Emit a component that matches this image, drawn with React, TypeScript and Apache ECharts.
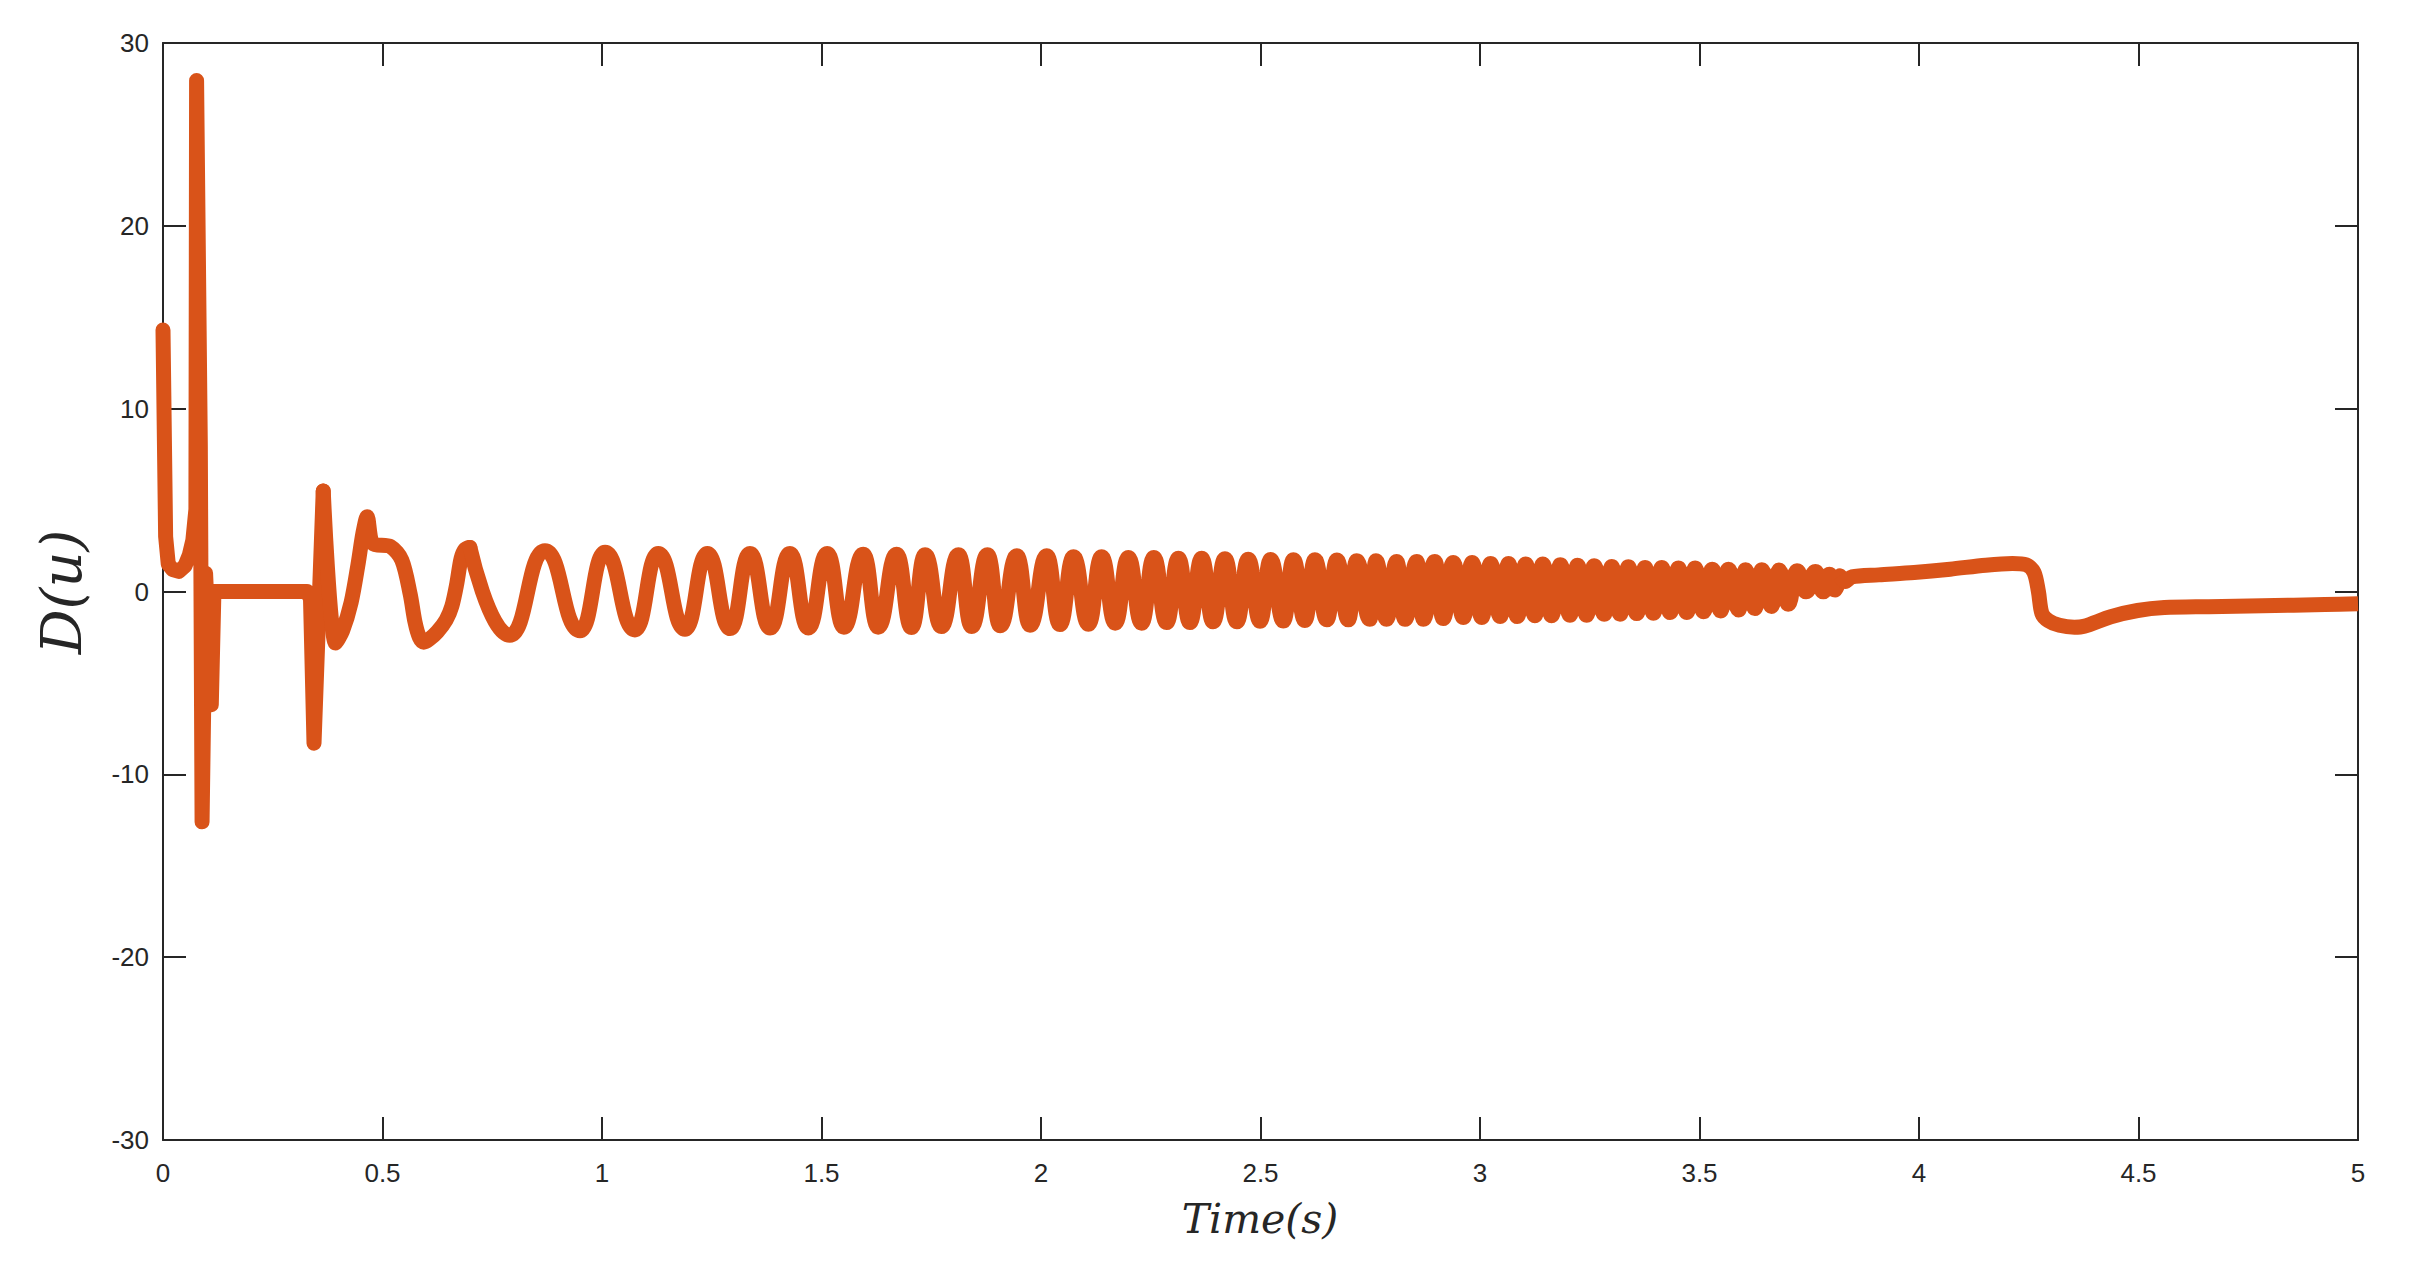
import React, { useEffect, useRef } from "react";
import * as echarts from "echarts";

// ---- Data ----
// Initial transient (t in s, D(u))
const transientT = [0, 0.006, 0.012, 0.022, 0.036, 0.05, 0.06, 0.068, 0.075, 0.0765, 0.085, 0.089, 0.097, 0.11, 0.116, 0.328, 0.336, 0.344, 0.365];
const transientV = [14.3, 3.0, 1.5, 1.2, 1.1, 1.4, 2.0, 2.8, 4.5, 27.95, 8.0, -12.6, 1.0, -6.2, 0, 0, -0.4, -8.3, 5.5];

// First slow oscillations after the second kick
const earlyT = [0.365, 0.393, 0.409, 0.4285, 0.444, 0.4555, 0.465, 0.4786, 0.518, 0.544, 0.563, 0.574, 0.584, 0.594, 0.606, 0.625, 0.645, 0.658, 0.669, 0.679, 0.688, 0.699];
const earlyV = [5.5, -2.82, -2.15, -0.6, 1.45, 3.2, 4.09, 2.62, 2.46, 1.72, -0.14, -1.67, -2.5, -2.77, -2.62, -2.2, -1.55, -0.8, 0.4, 1.8, 2.3, 2.41];

// Chirp oscillation: peaks
const peakT = [
  0.699, 0.87, 1.007, 1.128, 1.24, 1.337, 1.428, 1.513, 1.595, 1.671,
  1.736, 1.812, 1.878, 1.945, 2.013, 2.074, 2.138, 2.199, 2.257, 2.313, 2.366, 2.419, 2.472, 2.523, 2.575, 2.624, 2.674, 2.719, 2.763,
  2.81, 2.856, 2.897, 2.939, 2.982, 3.024, 3.065, 3.104, 3.143, 3.183, 3.222, 3.26, 3.3, 3.338, 3.376, 3.414, 3.452, 3.49, 3.529, 3.566, 3.605, 3.642, 3.681, 3.722, 3.764, 3.796, 3.82,
];
const peakV = [
  2.41, 2.23, 2.14, 2.08, 2.08, 2.08, 2.08, 2.08, 2.04, 2.04,
  2.01, 2.01, 2.01, 1.95, 1.95, 1.9, 1.9, 1.86, 1.86, 1.82, 1.82, 1.79, 1.77, 1.75, 1.73, 1.73, 1.72, 1.68, 1.68,
  1.64, 1.64, 1.64, 1.59, 1.59, 1.53, 1.53, 1.5, 1.5, 1.46, 1.44, 1.41, 1.37, 1.35, 1.31, 1.31, 1.28, 1.28, 1.22, 1.22, 1.19, 1.19, 1.17, 1.13, 1.1, 0.95, 0.86,
];
// Chirp oscillation: troughs
const troughT = [
  0.79, 0.95, 1.075, 1.189, 1.292, 1.383, 1.47, 1.551, 1.629,
  1.705, 1.773, 1.842, 1.907, 1.975, 2.043, 2.108, 2.169, 2.229, 2.286, 2.339, 2.392, 2.446, 2.499, 2.552, 2.601, 2.651, 2.7, 2.749,
  2.787, 2.829, 2.871, 2.916, 2.962, 3.004, 3.046, 3.085, 3.125, 3.163, 3.205, 3.243, 3.283, 3.319, 3.357, 3.395, 3.433, 3.471, 3.509, 3.548, 3.589, 3.626, 3.664, 3.702, 3.743, 3.782, 3.809,
];
const troughV = [
  -2.39, -2.15, -2.1, -2.06, -2.03, -1.99, -1.99, -1.95, -1.95,
  -1.97, -1.92, -1.92, -1.88, -1.84, -1.81, -1.79, -1.73, -1.73, -1.7, -1.7, -1.66, -1.66, -1.63, -1.61, -1.59, -1.55, -1.55, -1.52,
  -1.52, -1.52, -1.52, -1.48, -1.42, -1.42, -1.37, -1.37, -1.33, -1.33, -1.3, -1.3, -1.24, -1.24, -1.21, -1.19, -1.15, -1.15, -1.11, -1.06, -1.01, -0.93, -0.82, -0.7, -0.02, -0.02, 0.08,
];

// Slow tail
const tailT = [3.82, 3.832, 3.847, 3.908, 3.989, 4.071, 4.152, 4.213, 4.244, 4.262, 4.272, 4.28, 4.295, 4.32, 4.354, 4.376, 4.437, 4.498, 4.559, 4.66, 4.782, 4.925, 5.0];
const tailV = [0.86, 0.55, 0.8, 0.91, 1.04, 1.22, 1.44, 1.53, 1.46, 1.05, 0, -1.2, -1.6, -1.85, -1.95, -1.9, -1.38, -1.04, -0.88, -0.83, -0.78, -0.71, -0.67];

// Axis settings
const X_MIN = 0;
const X_MAX = 5;
const X_STEP = 0.5;
const Y_MIN = -30;
const Y_MAX = 30;
const Y_STEP = 10;

const X_TITLE = "Time(s)";
const Y_TITLE = "D(u)";

const LINE_COLOR = "#D95319";
const AXIS_COLOR = "#262626";
const LINE_WIDTH = 15;

function pairs(ts: number[], vs: number[]): number[][] {
  return ts.map((t, i) => [t, vs[i]]);
}

export default function App() {
  const ref = useRef<HTMLDivElement>(null);

  useEffect(() => {
    document.body.style.margin = "0";
    const el = ref.current;
    if (!el) return;
    const chart = echarts.init(el, null, { renderer: "svg" });

    const chirp = [...pairs(peakT, peakV), ...pairs(troughT, troughV)].sort((a, b) => a[0] - b[0]);

    const labelFont = {
      fontSize: 26,
      color: AXIS_COLOR,
      fontFamily: '"Liberation Sans", Arial, Helvetica, sans-serif',
    };
    const axisLine = { show: true, onZero: false, lineStyle: { color: AXIS_COLOR, width: 2 } };
    const axisTick = { show: true, inside: true, length: 23, lineStyle: { color: AXIS_COLOR, width: 2 } };

    const lineSeries = (name: string, data: number[][], extra: any) => ({
      name,
      type: "line",
      data,
      showSymbol: false,
      symbol: "none",
      xAxisIndex: 0,
      yAxisIndex: 0,
      lineStyle: { color: LINE_COLOR, width: LINE_WIDTH, cap: "round", join: "round" },
      itemStyle: { color: LINE_COLOR },
      ...extra,
    });

    chart.setOption({
      animation: false,
      backgroundColor: "#ffffff",
      grid: { left: 163, right: 56, top: 43, bottom: 122, containLabel: false },
      xAxis: [
        {
          type: "value",
          position: "bottom",
          min: X_MIN,
          max: X_MAX,
          interval: X_STEP,
          axisLine,
          axisTick,
          splitLine: { show: false },
          axisLabel: { ...labelFont, margin: 20, showMinLabel: true, showMaxLabel: true },
        },
        {
          type: "value",
          position: "top",
          min: X_MIN,
          max: X_MAX,
          interval: X_STEP,
          axisLine,
          axisTick,
          splitLine: { show: false },
          axisLabel: { show: false },
        },
      ],
      yAxis: [
        {
          type: "value",
          position: "left",
          min: Y_MIN,
          max: Y_MAX,
          interval: Y_STEP,
          axisLine,
          axisTick,
          splitLine: { show: false },
          axisLabel: { ...labelFont, margin: 14, showMinLabel: true, showMaxLabel: true },
        },
        {
          type: "value",
          position: "right",
          min: Y_MIN,
          max: Y_MAX,
          interval: Y_STEP,
          axisLine,
          axisTick,
          splitLine: { show: false },
          axisLabel: { show: false },
        },
      ],
      graphic: [
        {
          type: "text",
          x: 1260,
          y: 1219,
          style: {
            text: X_TITLE,
            fontSize: 41,
            fontStyle: "italic",
            fontFamily: '"DejaVu Serif", "Liberation Serif", serif',
            fill: AXIS_COLOR,
            align: "center",
            verticalAlign: "middle",
          },
        },
        {
          type: "text",
          x: 61,
          y: 592,
          rotation: Math.PI / 2,
          style: {
            text: Y_TITLE,
            fontSize: 56,
            fontStyle: "italic",
            fontFamily: '"DejaVu Serif", "Liberation Serif", serif',
            fill: AXIS_COLOR,
            align: "center",
            verticalAlign: "middle",
          },
        },
      ],
      series: [
        lineSeries("transient", pairs(transientT, transientV), { smooth: false, clip: false }),
        lineSeries("early", pairs(earlyT, earlyV), { smooth: 0.3, clip: false }),
        lineSeries("chirp", chirp, { smooth: 0.5, smoothMonotone: "x", clip: false }),
        lineSeries("tail", pairs(tailT, tailV), {
          smooth: 0.3,
          clip: true,
          lineStyle: { color: LINE_COLOR, width: LINE_WIDTH, cap: "butt", join: "round" },
        }),
      ],
    });

    return () => chart.dispose();
  }, []);

  return (
    <div
      ref={ref}
      style={{ position: "absolute", left: 0, top: 0, width: 2414, height: 1262, background: "#fff" }}
    />
  );
}
